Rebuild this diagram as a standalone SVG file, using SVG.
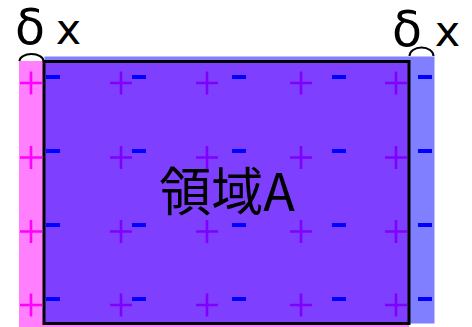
<svg xmlns="http://www.w3.org/2000/svg" width="472" height="327" viewBox="0 0 472 327">
<defs>
<style>
.pink{fill:#ff00ff;fill-opacity:0.5}
.blue{fill:#0000ff;fill-opacity:0.5}
.plus{stroke:#ff00ff;stroke-width:2.6;fill:none}
.minus{fill:#0000ff}
.edge{fill:none;stroke:#000;stroke-width:3}
.arc{fill:none;stroke:#000;stroke-width:2}
.lbl{font-family:"DejaVu Sans",sans-serif;font-size:43px;fill:#000}
.dl{font-size:49px}
.main{font-family:"Noto Sans CJK JP","Noto Sans",sans-serif;font-size:52px;fill:#000}
</style>
<path id="p" class="plus" d="M-11,0H11M0,-11.5V11.5"/>
<rect id="m" class="minus" x="0" y="-2" width="14" height="4"/>
</defs>
<g id="charge-plus">
<rect class="pink" x="19" y="61" width="390" height="266"/>
<use href="#p" x="31" y="83"/><use href="#p" x="121" y="83"/><use href="#p" x="207" y="83"/><use href="#p" x="301" y="83"/><use href="#p" x="396" y="83"/>
<use href="#p" x="31" y="157.5"/><use href="#p" x="121" y="157.5"/><use href="#p" x="207" y="157.5"/><use href="#p" x="301" y="157.5"/><use href="#p" x="396" y="157.5"/>
<use href="#p" x="31" y="231.5"/><use href="#p" x="121" y="231.5"/><use href="#p" x="207" y="231.5"/><use href="#p" x="301" y="231.5"/><use href="#p" x="396" y="231.5"/>
<use href="#p" x="31" y="305"/><use href="#p" x="121" y="305"/><use href="#p" x="207" y="305"/><use href="#p" x="301" y="305"/><use href="#p" x="396" y="305"/>
</g>
<g id="charge-minus">
<rect class="blue" x="44.5" y="56.5" width="390" height="267"/>
<use href="#m" x="46" y="77"/><use href="#m" x="132" y="77"/><use href="#m" x="232" y="77"/><use href="#m" x="332" y="77"/><use href="#m" x="418" y="77"/>
<use href="#m" x="46" y="151"/><use href="#m" x="132" y="151"/><use href="#m" x="232" y="151"/><use href="#m" x="332" y="151"/><use href="#m" x="418" y="151"/>
<use href="#m" x="46" y="225"/><use href="#m" x="132" y="225"/><use href="#m" x="232" y="225"/><use href="#m" x="332" y="225"/><use href="#m" x="418" y="225"/>
<use href="#m" x="46" y="299"/><use href="#m" x="132" y="299"/><use href="#m" x="232" y="299"/><use href="#m" x="332" y="299"/><use href="#m" x="418" y="299"/>
</g>
<g id="regionA">
<rect class="edge" x="44" y="61.5" width="365" height="262"/>
<text class="main" x="227" y="211" text-anchor="middle">領域A</text>
</g>
<g id="delta-left">
<path class="arc" d="M19.5,61 A12,7 0 0 1 43.5,61"/>
<text class="lbl" y="44"><tspan class="dl" x="15">δ</tspan><tspan x="42"> x</tspan></text>
</g>
<g id="delta-right">
<path class="arc" d="M409.5,56 A12,8.5 0 0 1 433.5,56"/>
<text class="lbl" y="46"><tspan class="dl" x="392">δ</tspan><tspan x="421"> x</tspan></text>
</g>
</svg>
